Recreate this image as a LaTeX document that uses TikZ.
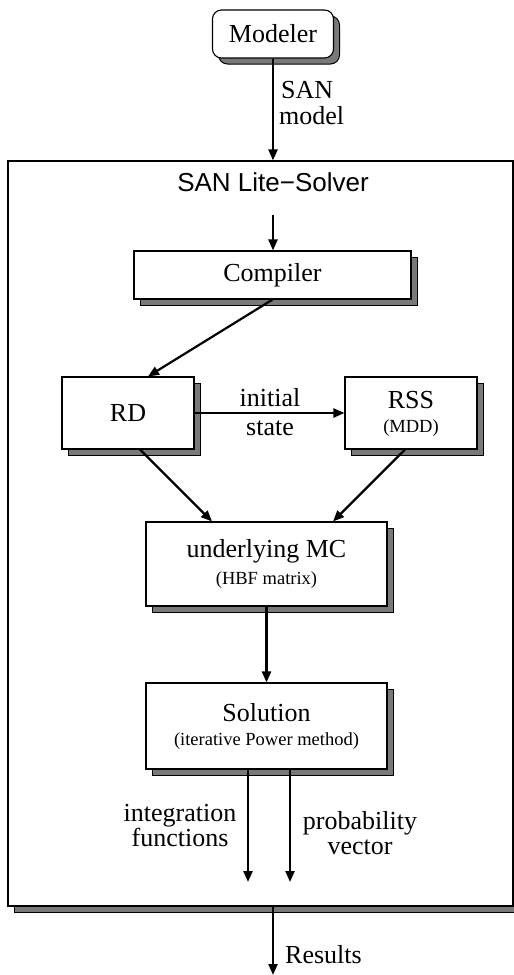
\documentclass[tikz,border=0pt]{standalone}
\usepackage{fontspec}
\setmainfont{Liberation Serif}
\setsansfont{Liberation Sans}
\usetikzlibrary{arrows.meta,shadows}
\begin{document}
\begin{tikzpicture}[x=1pt,y=-1pt,
  box/.style={draw=black, line width=1.1pt, fill=white, rectangle, inner sep=0pt,
    general shadow={shadow xshift=6pt, shadow yshift=-6pt, fill=gray!95!black, draw=black, line width=1pt}},
  big/.style={font=\fontsize{26}{23}\selectfont},
  small/.style={font=\fontsize{18.5}{20}\selectfont},
  arr/.style={line width=2.2pt, -{Triangle[length=11pt,width=9pt]}},
  lbl/.style={inner sep=0pt, align=center, font=\fontsize{26}{23}\selectfont}
]
\useasboundingbox (0,0) rectangle (514,975);
% outer solver box
\node[box, minimum width=505pt, minimum height=745pt] (solver) at (260.5,533.5) {};
\node[inner sep=0pt, font=\sffamily\fontsize{26}{28}\selectfont] (title) at (273,182) {SAN Lite\textminus Solver};
% modeler
\node[box, rounded corners=9pt, minimum width=121pt, minimum height=48pt, big] (modeler) at (273,34) {Modeler};
% compiler
\node[box, minimum width=277pt, minimum height=48pt, big] (compiler) at (272.5,275) {Compiler};
% RD and RSS
\node[box, minimum width=132pt, minimum height=72pt, big] (rd) at (128,413) {RD};
\node[box, minimum width=132pt, minimum height=72pt] (rss) at (411,413) {};
\node[lbl] (rsst) at (411,400) {RSS};
\node[inner sep=0pt, small] (mdd) at (411,428) {(MDD)};
% MC
\node[box, minimum width=241pt, minimum height=84pt] (mc) at (266.5,564) {};
\node[lbl] (mct) at (266.5,551) {underlying MC};
\node[inner sep=0pt, small] (hbf) at (266.5,580) {(HBF matrix)};
% Solution
\node[box, minimum width=241pt, minimum height=86pt] (sol) at (266.5,726) {};
\node[lbl] (solt) at (266.5,713) {Solution};
\node[inner sep=0pt, small] (pow) at (266.5,741) {(iterative Power method)};
% coordinates
\coordinate (tin) at (273,215);
\coordinate (e1) at (248,882);
\coordinate (e2) at (290,882);
\coordinate (res) at (273,975);
% arrows
\draw[arr] (modeler.south) -- (modeler.south |- solver.north);
\draw[arr] (tin) -- (tin |- compiler.north);
\draw[arr] (compiler.south) -- ([xshift=20pt]rd.north);
\draw[arr] (rd.east) -- (rss.west);
\draw[arr] ([xshift=12pt]rd.south) -- ([xshift=-54.5pt]mc.north);
\draw[arr] ([xshift=-6pt]rss.south) -- ([xshift=66.5pt]mc.north);
\draw[arr] (mc.south) -- (sol.north);
\draw[arr] (e1 |- sol.south) -- (e1);
\draw[arr] (e2 |- sol.south) -- (e2);
\draw[arr] (res |- solver.south) -- (res);
% labels
\node[lbl, anchor=base west] (san) at (281,98) {SAN};
\node[lbl, anchor=base west] (model) at (279,124) {model};
\node[lbl] (ini) at (270,398) {initial};
\node[lbl] (sta) at (270,428) {state};
\node[lbl, anchor=base] (integ) at (180,821) {integration};
\node[lbl, anchor=base] (func) at (180,846) {functions};
\node[lbl, anchor=base] (prob) at (360,829) {probability};
\node[lbl, anchor=base] (vect) at (360,854) {vector};
\node[lbl, anchor=west] (resl) at (285,955) {Results};
\end{tikzpicture}
\end{document}
